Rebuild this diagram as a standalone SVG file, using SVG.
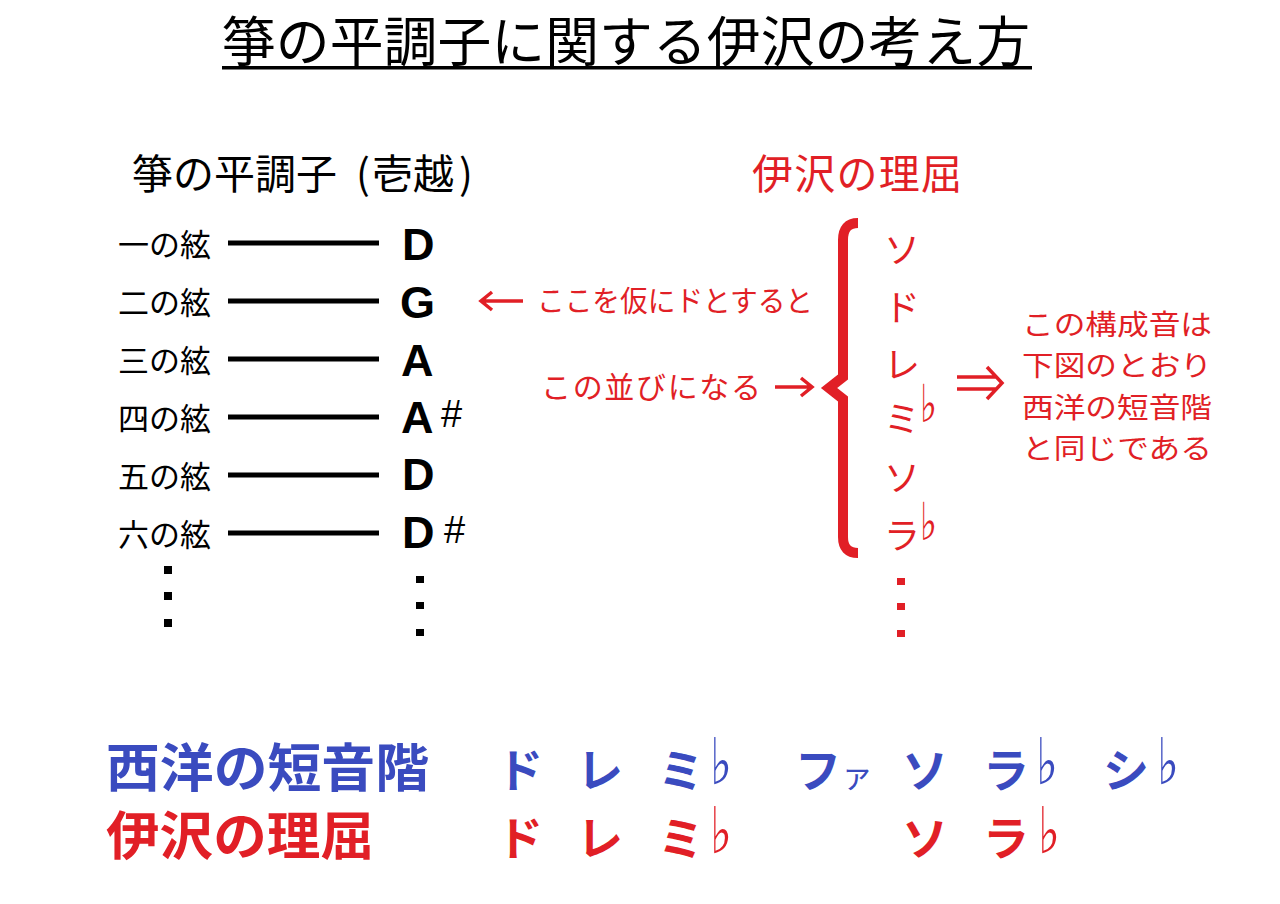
<svg xmlns="http://www.w3.org/2000/svg" width="1280" height="904" viewBox="0 0 1280 904">
<style>
.jp{font-family:"Noto Sans CJK JP","Noto Sans",sans-serif}
.blk{fill:#000}
.red{fill:#e11f26}
.blu{fill:#3a4bbf}
.lat{font-family:"Liberation Sans",Arial,sans-serif}
.flat{font-family:"DejaVu Sans",sans-serif;font-weight:normal}
.str{stroke:#000;stroke-width:5}
</style>
<rect width="1280" height="904" fill="#fff"/>
<g id="title">
<text class="jp blk" x="222" y="62" font-size="54" textLength="808" lengthAdjust="spacingAndGlyphs">箏の平調子に関する伊沢の考え方</text>
<rect x="222" y="66" width="810" height="3.5" fill="#000"/>
</g>
<g id="koto-heading">
<text class="jp blk" font-size="41" y="189"><tspan x="132">箏の平調子</tspan><tspan x="356">(</tspan><tspan x="372">壱越</tspan><tspan x="459">)</tspan></text>
</g>
<g id="izawa-heading">
<text class="jp red" x="752" y="189" font-size="41" textLength="210" lengthAdjust="spacing">伊沢の理屈</text>
</g>
<g id="strings">
<g class="jp blk" font-size="31">
<text x="118" y="256">一の絃</text>
<text x="118" y="314">二の絃</text>
<text x="118" y="372">三の絃</text>
<text x="118" y="430">四の絃</text>
<text x="118" y="488">五の絃</text>
<text x="118" y="546">六の絃</text>
</g>
<g class="str">
<line x1="228" y1="243" x2="379" y2="243"/>
<line x1="228" y1="301" x2="379" y2="301"/>
<line x1="228" y1="359" x2="379" y2="359"/>
<line x1="228" y1="417" x2="379" y2="417"/>
<line x1="228" y1="475" x2="379" y2="475"/>
<line x1="228" y1="533" x2="379" y2="533"/>
</g>
<g fill="#000">
<rect x="164" y="566" width="8" height="8"/>
<rect x="164" y="592" width="8" height="8"/>
<rect x="164" y="619" width="8" height="8"/>
</g>
</g>
<g id="notes">
<g class="lat blk" font-size="45" font-weight="bold">
<text x="402" y="260">D</text>
<text x="400" y="318">G</text>
<text x="401" y="376">A</text>
<text x="401" y="433">A</text>
<text x="402" y="490">D</text>
<text x="402" y="548">D</text>
</g>
<g class="lat blk" font-size="38">
<text x="441" y="427">#</text>
<text x="444" y="543">#</text>
</g>
<g fill="#000">
<rect x="416" y="576" width="8" height="7"/>
<rect x="416" y="602" width="8" height="7"/>
<rect x="416" y="629" width="8" height="7"/>
</g>
</g>
<g id="label-karini">
<text class="jp red" x="537" y="312" font-size="29" textLength="276" lengthAdjust="spacingAndGlyphs">ここを仮にドとすると</text>
</g>
<g id="label-narabi">
<text class="jp red" x="541" y="398" font-size="30" textLength="220" lengthAdjust="spacing">この並びになる</text>
</g>
<g id="brace">
<path d="M858 223 Q843 223 843 240 L843 377 L829 388 L843 399 L843 537 Q843 553 858 553" fill="none" stroke="#e11f26" stroke-width="10"/>
</g>
<g id="izawa-scale">
<g class="jp red" font-size="36">
<text x="884" y="263">ソ</text>
<text x="884" y="321">ド</text>
<text x="884" y="378">レ</text>
<text x="884" y="432">ミ</text>
<text x="884" y="491">ソ</text>
<text x="884" y="549">ラ</text>
</g>
<g class="flat red" font-size="36">
<text transform="translate(920 422) scale(1 1.45)">♭</text>
<text transform="translate(920 540) scale(1 1.45)">♭</text>
</g>
<g fill="#e11f26">
<rect x="897" y="578" width="8" height="7"/>
<rect x="897" y="603" width="8" height="7"/>
<rect x="897" y="630" width="8" height="7"/>
</g>
</g>
<g id="conclusion">
<g class="jp red" font-size="28">
<text x="1022" y="335" textLength="190" lengthAdjust="spacingAndGlyphs">この構成音は</text>
<text x="1022" y="376" textLength="190" lengthAdjust="spacingAndGlyphs">下図のとおり</text>
<text x="1022" y="418" textLength="190" lengthAdjust="spacingAndGlyphs">西洋の短音階</text>
<text x="1022" y="459" textLength="190" lengthAdjust="spacingAndGlyphs">と同じである</text>
</g>
</g>
<g id="connectors" fill="none" stroke="#e11f26" stroke-width="3.5">
<path d="M481 301 H523 M492 292 L481 301 L492 310"/>
<path d="M775 387 H812 M801 378 L812 387 L801 396"/>
<path d="M957 377 H996 M957 389 H996 M987 367 L1002 383 L987 399"/>
</g>
<g id="western-row">
<g class="jp blu" font-weight="bold">
<text x="106" y="787" font-size="52" textLength="323" lengthAdjust="spacingAndGlyphs">西洋の短音階</text>
<g font-size="46">
<text x="497" y="787">ド</text>
<text x="577" y="787">レ</text>
<text x="658" y="787">ミ</text>
<text x="795" y="787">フ<tspan font-size="32" font-weight="normal">ァ</tspan></text>
<text x="902" y="787">ソ</text>
<text x="983" y="787">ラ</text>
<text x="1103" y="787">シ</text>
</g>
</g>
<g class="flat blu" font-size="46">
<text transform="translate(710 784) scale(1 1.4)">♭</text>
<text transform="translate(1036 784) scale(1 1.4)">♭</text>
<text transform="translate(1157 784) scale(1 1.4)">♭</text>
</g>
</g>
<g id="izawa-row">
<g class="jp red" font-weight="bold">
<text x="106" y="855" font-size="52" textLength="268" lengthAdjust="spacingAndGlyphs">伊沢の理屈</text>
<g font-size="46">
<text x="497" y="855">ド</text>
<text x="577" y="855">レ</text>
<text x="658" y="855">ミ</text>
<text x="902" y="855">ソ</text>
<text x="983" y="855">ラ</text>
</g>
</g>
<g class="flat red" font-size="46">
<text transform="translate(710 853) scale(1 1.4)">♭</text>
<text transform="translate(1038 853) scale(1 1.4)">♭</text>
</g>
</g>
</svg>
